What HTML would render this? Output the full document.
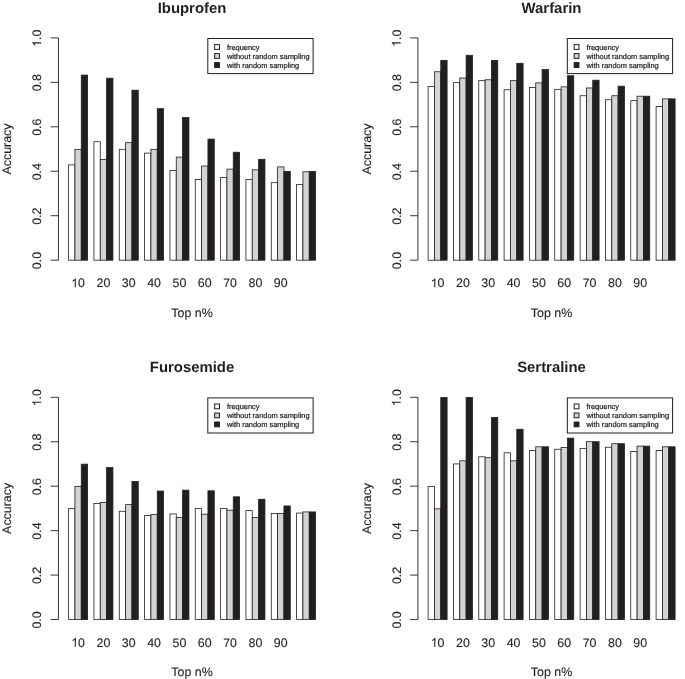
<!DOCTYPE html>
<html><head><meta charset="utf-8"><style>
html,body{margin:0;padding:0;background:#fff;}
svg{display:block;}
#w{width:685px;height:679px;overflow:hidden;will-change:transform;}
text{text-rendering:geometricPrecision;font-family:"Liberation Sans",sans-serif;fill:#231f20;}
.t{font-size:12.4px;stroke:#231f20;stroke-width:0.12px;stroke-linejoin:round;}
.one{fill:#231f20;stroke:none;}
.tt{font-size:14.9px;font-weight:bold;}
.lt{font-size:7.45px;stroke:#231f20;stroke-width:0.22px;stroke-linejoin:round;}
rect{stroke:#231f20;stroke-width:0.8;}
.ax{fill:none;stroke:#231f20;stroke-width:0.9;}
.lb{fill:#fff;stroke:#231f20;stroke-width:1;}
.sq{stroke-width:1;}
</style></head><body>
<div id="w"><svg width="685" height="679" viewBox="0 0 685 679">
<g>
<g><rect x="68.6" y="164.89" width="6.33" height="95.31" fill="#ffffff"/>
<rect x="74.93" y="149.33" width="6.33" height="110.87" fill="#d1d3d4"/>
<rect x="81.27" y="75.08" width="6.33" height="185.12" fill="#231f20"/>
<rect x="93.93" y="141.77" width="6.33" height="118.43" fill="#ffffff"/>
<rect x="100.27" y="159.55" width="6.33" height="100.65" fill="#d1d3d4"/>
<rect x="106.6" y="78.19" width="6.33" height="182.01" fill="#231f20"/>
<rect x="119.27" y="149.33" width="6.33" height="110.87" fill="#ffffff"/>
<rect x="125.6" y="142.66" width="6.33" height="117.54" fill="#d1d3d4"/>
<rect x="131.93" y="90.2" width="6.33" height="170" fill="#231f20"/>
<rect x="144.6" y="153.11" width="6.33" height="107.09" fill="#ffffff"/>
<rect x="150.93" y="149.33" width="6.33" height="110.87" fill="#d1d3d4"/>
<rect x="157.26" y="108.65" width="6.33" height="151.55" fill="#231f20"/>
<rect x="169.93" y="170.45" width="6.33" height="89.75" fill="#ffffff"/>
<rect x="176.26" y="157.11" width="6.33" height="103.09" fill="#d1d3d4"/>
<rect x="182.6" y="117.54" width="6.33" height="142.66" fill="#231f20"/>
<rect x="195.26" y="179.56" width="6.33" height="80.64" fill="#ffffff"/>
<rect x="201.6" y="166" width="6.33" height="94.2" fill="#d1d3d4"/>
<rect x="207.93" y="139.1" width="6.33" height="121.1" fill="#231f20"/>
<rect x="220.6" y="177.56" width="6.33" height="82.64" fill="#ffffff"/>
<rect x="226.93" y="169.11" width="6.33" height="91.09" fill="#d1d3d4"/>
<rect x="233.26" y="152.22" width="6.33" height="107.98" fill="#231f20"/>
<rect x="245.93" y="179.56" width="6.33" height="80.64" fill="#ffffff"/>
<rect x="252.26" y="169.78" width="6.33" height="90.42" fill="#d1d3d4"/>
<rect x="258.6" y="159.33" width="6.33" height="100.87" fill="#231f20"/>
<rect x="271.26" y="182.67" width="6.33" height="77.53" fill="#ffffff"/>
<rect x="277.6" y="166.89" width="6.33" height="93.31" fill="#d1d3d4"/>
<rect x="283.93" y="171.34" width="6.33" height="88.86" fill="#231f20"/>
<rect x="296.6" y="184.45" width="6.33" height="75.75" fill="#ffffff"/>
<rect x="302.93" y="171.78" width="6.33" height="88.42" fill="#d1d3d4"/>
<rect x="309.26" y="171.34" width="6.33" height="88.86" fill="#231f20"/>
<path d="M58.45 37.9V260.15M50.6 260.15H58.45M50.6 215.7H58.45M50.6 171.25H58.45M50.6 126.8H58.45M50.6 82.35H58.45M50.6 37.9H58.45" class="ax"/>
<text x="41.2" y="260.55" transform="rotate(-90 41.2 260.55)" class="t" text-anchor="middle">0.0</text>
<text x="41.2" y="216.1" transform="rotate(-90 41.2 216.1)" class="t" text-anchor="middle">0.2</text>
<text x="41.2" y="171.65" transform="rotate(-90 41.2 171.65)" class="t" text-anchor="middle">0.4</text>
<text x="41.2" y="127.2" transform="rotate(-90 41.2 127.2)" class="t" text-anchor="middle">0.6</text>
<text x="41.2" y="82.75" transform="rotate(-90 41.2 82.75)" class="t" text-anchor="middle">0.8</text>
<g transform="translate(41.2 38.3) rotate(-90)"><path d="M763 0H583V1147Q518 1085 412 1023Q307 961 223 930V1104Q374 1175 487 1276Q600 1377 647 1472H763Z" transform="translate(-8.62 0) scale(0.006055 -0.006055)" class="one"/><text x="-1.72" y="0" class="t">.0</text></g>
<text x="11.4" y="149" transform="rotate(-90 11.4 149)" class="t" text-anchor="middle">Accuracy</text>
<path d="M763 0H583V1147Q518 1085 412 1023Q307 961 223 930V1104Q374 1175 487 1276Q600 1377 647 1472H763Z" transform="translate(71.21 287.3) scale(0.006055 -0.006055)" class="one"/><text x="78.1" y="287.3" class="t">0</text>
<text x="103.43" y="287.3" class="t" text-anchor="middle">20</text>
<text x="128.77" y="287.3" class="t" text-anchor="middle">30</text>
<text x="154.1" y="287.3" class="t" text-anchor="middle">40</text>
<text x="179.43" y="287.3" class="t" text-anchor="middle">50</text>
<text x="204.76" y="287.3" class="t" text-anchor="middle">60</text>
<text x="230.1" y="287.3" class="t" text-anchor="middle">70</text>
<text x="255.43" y="287.3" class="t" text-anchor="middle">80</text>
<text x="280.76" y="287.3" class="t" text-anchor="middle">90</text>
<text x="192" y="317" class="t" text-anchor="middle">Top n%</text>
<text x="192" y="12.8" class="tt" text-anchor="middle">Ibuprofen</text>
<rect x="207.8" y="38.5" width="105.3" height="35.1" class="lb"/>
<rect x="214.65" y="44.6" width="4.8" height="4.8" fill="#ffffff" class="sq"/>
<text x="226.9" y="49.8" class="lt">frequency</text>
<rect x="214.65" y="53.6" width="4.8" height="4.8" fill="#d1d3d4" class="sq"/>
<text x="226.9" y="58.8" class="lt">without random sampling</text>
<rect x="214.65" y="62.6" width="4.8" height="4.8" fill="#231f20" class="sq"/>
<text x="226.9" y="67.8" class="lt">with random sampling</text></g>
<g><rect x="428.1" y="86.42" width="6.33" height="173.78" fill="#ffffff"/>
<rect x="434.43" y="71.74" width="6.33" height="188.46" fill="#d1d3d4"/>
<rect x="440.77" y="60.41" width="6.33" height="199.79" fill="#231f20"/>
<rect x="453.43" y="82.64" width="6.33" height="177.56" fill="#ffffff"/>
<rect x="459.77" y="77.97" width="6.33" height="182.23" fill="#d1d3d4"/>
<rect x="466.1" y="55.29" width="6.33" height="204.91" fill="#231f20"/>
<rect x="478.77" y="80.64" width="6.33" height="179.56" fill="#ffffff"/>
<rect x="485.1" y="79.75" width="6.33" height="180.45" fill="#d1d3d4"/>
<rect x="491.43" y="60.41" width="6.33" height="199.79" fill="#231f20"/>
<rect x="504.1" y="89.75" width="6.33" height="170.45" fill="#ffffff"/>
<rect x="510.43" y="80.64" width="6.33" height="179.56" fill="#d1d3d4"/>
<rect x="516.76" y="63.3" width="6.33" height="196.9" fill="#231f20"/>
<rect x="529.43" y="87.53" width="6.33" height="172.67" fill="#ffffff"/>
<rect x="535.76" y="82.86" width="6.33" height="177.34" fill="#d1d3d4"/>
<rect x="542.1" y="69.52" width="6.33" height="190.68" fill="#231f20"/>
<rect x="554.76" y="89.31" width="6.33" height="170.89" fill="#ffffff"/>
<rect x="561.1" y="86.86" width="6.33" height="173.34" fill="#d1d3d4"/>
<rect x="567.43" y="75.75" width="6.33" height="184.45" fill="#231f20"/>
<rect x="580.1" y="95.75" width="6.33" height="164.45" fill="#ffffff"/>
<rect x="586.43" y="87.97" width="6.33" height="172.23" fill="#d1d3d4"/>
<rect x="592.76" y="80.19" width="6.33" height="180.01" fill="#231f20"/>
<rect x="605.43" y="99.75" width="6.33" height="160.45" fill="#ffffff"/>
<rect x="611.76" y="95.75" width="6.33" height="164.45" fill="#d1d3d4"/>
<rect x="618.1" y="86.19" width="6.33" height="174.01" fill="#231f20"/>
<rect x="630.76" y="100.64" width="6.33" height="159.56" fill="#ffffff"/>
<rect x="637.1" y="96.2" width="6.33" height="164" fill="#d1d3d4"/>
<rect x="643.43" y="96.2" width="6.33" height="164" fill="#231f20"/>
<rect x="656.1" y="106.42" width="6.33" height="153.78" fill="#ffffff"/>
<rect x="662.43" y="98.87" width="6.33" height="161.33" fill="#d1d3d4"/>
<rect x="668.76" y="98.87" width="6.33" height="161.33" fill="#231f20"/>
<path d="M417.95 37.9V260.15M410.1 260.15H417.95M410.1 215.7H417.95M410.1 171.25H417.95M410.1 126.8H417.95M410.1 82.35H417.95M410.1 37.9H417.95" class="ax"/>
<text x="400.7" y="260.55" transform="rotate(-90 400.7 260.55)" class="t" text-anchor="middle">0.0</text>
<text x="400.7" y="216.1" transform="rotate(-90 400.7 216.1)" class="t" text-anchor="middle">0.2</text>
<text x="400.7" y="171.65" transform="rotate(-90 400.7 171.65)" class="t" text-anchor="middle">0.4</text>
<text x="400.7" y="127.2" transform="rotate(-90 400.7 127.2)" class="t" text-anchor="middle">0.6</text>
<text x="400.7" y="82.75" transform="rotate(-90 400.7 82.75)" class="t" text-anchor="middle">0.8</text>
<g transform="translate(400.7 38.3) rotate(-90)"><path d="M763 0H583V1147Q518 1085 412 1023Q307 961 223 930V1104Q374 1175 487 1276Q600 1377 647 1472H763Z" transform="translate(-8.62 0) scale(0.006055 -0.006055)" class="one"/><text x="-1.72" y="0" class="t">.0</text></g>
<text x="370.9" y="149" transform="rotate(-90 370.9 149)" class="t" text-anchor="middle">Accuracy</text>
<path d="M763 0H583V1147Q518 1085 412 1023Q307 961 223 930V1104Q374 1175 487 1276Q600 1377 647 1472H763Z" transform="translate(430.71 287.3) scale(0.006055 -0.006055)" class="one"/><text x="437.6" y="287.3" class="t">0</text>
<text x="462.93" y="287.3" class="t" text-anchor="middle">20</text>
<text x="488.27" y="287.3" class="t" text-anchor="middle">30</text>
<text x="513.6" y="287.3" class="t" text-anchor="middle">40</text>
<text x="538.93" y="287.3" class="t" text-anchor="middle">50</text>
<text x="564.26" y="287.3" class="t" text-anchor="middle">60</text>
<text x="589.6" y="287.3" class="t" text-anchor="middle">70</text>
<text x="614.93" y="287.3" class="t" text-anchor="middle">80</text>
<text x="640.26" y="287.3" class="t" text-anchor="middle">90</text>
<text x="551.5" y="317" class="t" text-anchor="middle">Top n%</text>
<text x="551.5" y="12.8" class="tt" text-anchor="middle">Warfarin</text>
<rect x="567.3" y="38.5" width="105.3" height="35.1" class="lb"/>
<rect x="574.15" y="44.6" width="4.8" height="4.8" fill="#ffffff" class="sq"/>
<text x="586.4" y="49.8" class="lt">frequency</text>
<rect x="574.15" y="53.6" width="4.8" height="4.8" fill="#d1d3d4" class="sq"/>
<text x="586.4" y="58.8" class="lt">without random sampling</text>
<rect x="574.15" y="62.6" width="4.8" height="4.8" fill="#231f20" class="sq"/>
<text x="586.4" y="67.8" class="lt">with random sampling</text></g>
<g><rect x="68.6" y="508.38" width="6.33" height="111.22" fill="#ffffff"/>
<rect x="74.93" y="486.59" width="6.33" height="133.01" fill="#d1d3d4"/>
<rect x="81.27" y="464.14" width="6.33" height="155.46" fill="#231f20"/>
<rect x="93.93" y="503.49" width="6.33" height="116.11" fill="#ffffff"/>
<rect x="100.27" y="502.6" width="6.33" height="117" fill="#d1d3d4"/>
<rect x="106.6" y="467.47" width="6.33" height="152.13" fill="#231f20"/>
<rect x="119.27" y="511.27" width="6.33" height="108.33" fill="#ffffff"/>
<rect x="125.6" y="504.6" width="6.33" height="115" fill="#d1d3d4"/>
<rect x="131.93" y="481.48" width="6.33" height="138.12" fill="#231f20"/>
<rect x="144.6" y="515.49" width="6.33" height="104.11" fill="#ffffff"/>
<rect x="150.93" y="514.6" width="6.33" height="105" fill="#d1d3d4"/>
<rect x="157.26" y="491.04" width="6.33" height="128.56" fill="#231f20"/>
<rect x="169.93" y="513.94" width="6.33" height="105.66" fill="#ffffff"/>
<rect x="176.26" y="517.49" width="6.33" height="102.11" fill="#d1d3d4"/>
<rect x="182.6" y="490.15" width="6.33" height="129.45" fill="#231f20"/>
<rect x="195.26" y="508.38" width="6.33" height="111.22" fill="#ffffff"/>
<rect x="201.6" y="514.16" width="6.33" height="105.44" fill="#d1d3d4"/>
<rect x="207.93" y="490.82" width="6.33" height="128.78" fill="#231f20"/>
<rect x="220.6" y="508.38" width="6.33" height="111.22" fill="#ffffff"/>
<rect x="226.93" y="510.16" width="6.33" height="109.44" fill="#d1d3d4"/>
<rect x="233.26" y="496.82" width="6.33" height="122.78" fill="#231f20"/>
<rect x="245.93" y="510.6" width="6.33" height="109" fill="#ffffff"/>
<rect x="252.26" y="517.49" width="6.33" height="102.11" fill="#d1d3d4"/>
<rect x="258.6" y="499.26" width="6.33" height="120.34" fill="#231f20"/>
<rect x="271.26" y="513.49" width="6.33" height="106.11" fill="#ffffff"/>
<rect x="277.6" y="513.49" width="6.33" height="106.11" fill="#d1d3d4"/>
<rect x="283.93" y="505.93" width="6.33" height="113.67" fill="#231f20"/>
<rect x="296.6" y="513.05" width="6.33" height="106.55" fill="#ffffff"/>
<rect x="302.93" y="511.93" width="6.33" height="107.67" fill="#d1d3d4"/>
<rect x="309.26" y="511.93" width="6.33" height="107.67" fill="#231f20"/>
<path d="M58.45 397.3V619.55M50.6 619.55H58.45M50.6 575.1H58.45M50.6 530.65H58.45M50.6 486.2H58.45M50.6 441.75H58.45M50.6 397.3H58.45" class="ax"/>
<text x="41.2" y="619.95" transform="rotate(-90 41.2 619.95)" class="t" text-anchor="middle">0.0</text>
<text x="41.2" y="575.5" transform="rotate(-90 41.2 575.5)" class="t" text-anchor="middle">0.2</text>
<text x="41.2" y="531.05" transform="rotate(-90 41.2 531.05)" class="t" text-anchor="middle">0.4</text>
<text x="41.2" y="486.6" transform="rotate(-90 41.2 486.6)" class="t" text-anchor="middle">0.6</text>
<text x="41.2" y="442.15" transform="rotate(-90 41.2 442.15)" class="t" text-anchor="middle">0.8</text>
<g transform="translate(41.2 397.7) rotate(-90)"><path d="M763 0H583V1147Q518 1085 412 1023Q307 961 223 930V1104Q374 1175 487 1276Q600 1377 647 1472H763Z" transform="translate(-8.62 0) scale(0.006055 -0.006055)" class="one"/><text x="-1.72" y="0" class="t">.0</text></g>
<text x="11.4" y="508.4" transform="rotate(-90 11.4 508.4)" class="t" text-anchor="middle">Accuracy</text>
<path d="M763 0H583V1147Q518 1085 412 1023Q307 961 223 930V1104Q374 1175 487 1276Q600 1377 647 1472H763Z" transform="translate(71.21 646.7) scale(0.006055 -0.006055)" class="one"/><text x="78.1" y="646.7" class="t">0</text>
<text x="103.43" y="646.7" class="t" text-anchor="middle">20</text>
<text x="128.77" y="646.7" class="t" text-anchor="middle">30</text>
<text x="154.1" y="646.7" class="t" text-anchor="middle">40</text>
<text x="179.43" y="646.7" class="t" text-anchor="middle">50</text>
<text x="204.76" y="646.7" class="t" text-anchor="middle">60</text>
<text x="230.1" y="646.7" class="t" text-anchor="middle">70</text>
<text x="255.43" y="646.7" class="t" text-anchor="middle">80</text>
<text x="280.76" y="646.7" class="t" text-anchor="middle">90</text>
<text x="192" y="676.4" class="t" text-anchor="middle">Top n%</text>
<text x="192" y="372.2" class="tt" text-anchor="middle">Furosemide</text>
<rect x="207.8" y="397.9" width="105.3" height="35.1" class="lb"/>
<rect x="214.65" y="404" width="4.8" height="4.8" fill="#ffffff" class="sq"/>
<text x="226.9" y="409.2" class="lt">frequency</text>
<rect x="214.65" y="413" width="4.8" height="4.8" fill="#d1d3d4" class="sq"/>
<text x="226.9" y="418.2" class="lt">without random sampling</text>
<rect x="214.65" y="422" width="4.8" height="4.8" fill="#231f20" class="sq"/>
<text x="226.9" y="427.2" class="lt">with random sampling</text></g>
<g><rect x="428.1" y="486.37" width="6.33" height="133.23" fill="#ffffff"/>
<rect x="434.43" y="508.82" width="6.33" height="110.78" fill="#d1d3d4"/>
<rect x="440.77" y="397.45" width="6.33" height="222.15" fill="#231f20"/>
<rect x="453.43" y="463.92" width="6.33" height="155.68" fill="#ffffff"/>
<rect x="459.77" y="460.81" width="6.33" height="158.79" fill="#d1d3d4"/>
<rect x="466.1" y="397.45" width="6.33" height="222.15" fill="#231f20"/>
<rect x="478.77" y="456.8" width="6.33" height="162.8" fill="#ffffff"/>
<rect x="485.1" y="457.69" width="6.33" height="161.91" fill="#d1d3d4"/>
<rect x="491.43" y="417.46" width="6.33" height="202.14" fill="#231f20"/>
<rect x="504.1" y="452.8" width="6.33" height="166.8" fill="#ffffff"/>
<rect x="510.43" y="460.81" width="6.33" height="158.79" fill="#d1d3d4"/>
<rect x="516.76" y="429.24" width="6.33" height="190.36" fill="#231f20"/>
<rect x="529.43" y="450.58" width="6.33" height="169.02" fill="#ffffff"/>
<rect x="535.76" y="446.8" width="6.33" height="172.8" fill="#d1d3d4"/>
<rect x="542.1" y="446.8" width="6.33" height="172.8" fill="#231f20"/>
<rect x="554.76" y="449.25" width="6.33" height="170.35" fill="#ffffff"/>
<rect x="561.1" y="447.47" width="6.33" height="172.13" fill="#d1d3d4"/>
<rect x="567.43" y="438.13" width="6.33" height="181.47" fill="#231f20"/>
<rect x="580.1" y="448.36" width="6.33" height="171.24" fill="#ffffff"/>
<rect x="586.43" y="441.69" width="6.33" height="177.91" fill="#d1d3d4"/>
<rect x="592.76" y="441.69" width="6.33" height="177.91" fill="#231f20"/>
<rect x="605.43" y="447.25" width="6.33" height="172.35" fill="#ffffff"/>
<rect x="611.76" y="443.69" width="6.33" height="175.91" fill="#d1d3d4"/>
<rect x="618.1" y="443.69" width="6.33" height="175.91" fill="#231f20"/>
<rect x="630.76" y="451.47" width="6.33" height="168.13" fill="#ffffff"/>
<rect x="637.1" y="446.13" width="6.33" height="173.47" fill="#d1d3d4"/>
<rect x="643.43" y="446.13" width="6.33" height="173.47" fill="#231f20"/>
<rect x="656.1" y="450.58" width="6.33" height="169.02" fill="#ffffff"/>
<rect x="662.43" y="446.8" width="6.33" height="172.8" fill="#d1d3d4"/>
<rect x="668.76" y="446.8" width="6.33" height="172.8" fill="#231f20"/>
<path d="M417.95 397.3V619.55M410.1 619.55H417.95M410.1 575.1H417.95M410.1 530.65H417.95M410.1 486.2H417.95M410.1 441.75H417.95M410.1 397.3H417.95" class="ax"/>
<text x="400.7" y="619.95" transform="rotate(-90 400.7 619.95)" class="t" text-anchor="middle">0.0</text>
<text x="400.7" y="575.5" transform="rotate(-90 400.7 575.5)" class="t" text-anchor="middle">0.2</text>
<text x="400.7" y="531.05" transform="rotate(-90 400.7 531.05)" class="t" text-anchor="middle">0.4</text>
<text x="400.7" y="486.6" transform="rotate(-90 400.7 486.6)" class="t" text-anchor="middle">0.6</text>
<text x="400.7" y="442.15" transform="rotate(-90 400.7 442.15)" class="t" text-anchor="middle">0.8</text>
<g transform="translate(400.7 397.7) rotate(-90)"><path d="M763 0H583V1147Q518 1085 412 1023Q307 961 223 930V1104Q374 1175 487 1276Q600 1377 647 1472H763Z" transform="translate(-8.62 0) scale(0.006055 -0.006055)" class="one"/><text x="-1.72" y="0" class="t">.0</text></g>
<text x="370.9" y="508.4" transform="rotate(-90 370.9 508.4)" class="t" text-anchor="middle">Accuracy</text>
<path d="M763 0H583V1147Q518 1085 412 1023Q307 961 223 930V1104Q374 1175 487 1276Q600 1377 647 1472H763Z" transform="translate(430.71 646.7) scale(0.006055 -0.006055)" class="one"/><text x="437.6" y="646.7" class="t">0</text>
<text x="462.93" y="646.7" class="t" text-anchor="middle">20</text>
<text x="488.27" y="646.7" class="t" text-anchor="middle">30</text>
<text x="513.6" y="646.7" class="t" text-anchor="middle">40</text>
<text x="538.93" y="646.7" class="t" text-anchor="middle">50</text>
<text x="564.26" y="646.7" class="t" text-anchor="middle">60</text>
<text x="589.6" y="646.7" class="t" text-anchor="middle">70</text>
<text x="614.93" y="646.7" class="t" text-anchor="middle">80</text>
<text x="640.26" y="646.7" class="t" text-anchor="middle">90</text>
<text x="551.5" y="676.4" class="t" text-anchor="middle">Top n%</text>
<text x="551.5" y="372.2" class="tt" text-anchor="middle">Sertraline</text>
<rect x="567.3" y="397.9" width="105.3" height="35.1" class="lb"/>
<rect x="574.15" y="404" width="4.8" height="4.8" fill="#ffffff" class="sq"/>
<text x="586.4" y="409.2" class="lt">frequency</text>
<rect x="574.15" y="413" width="4.8" height="4.8" fill="#d1d3d4" class="sq"/>
<text x="586.4" y="418.2" class="lt">without random sampling</text>
<rect x="574.15" y="422" width="4.8" height="4.8" fill="#231f20" class="sq"/>
<text x="586.4" y="427.2" class="lt">with random sampling</text></g></g>
</svg></div></body></html>
